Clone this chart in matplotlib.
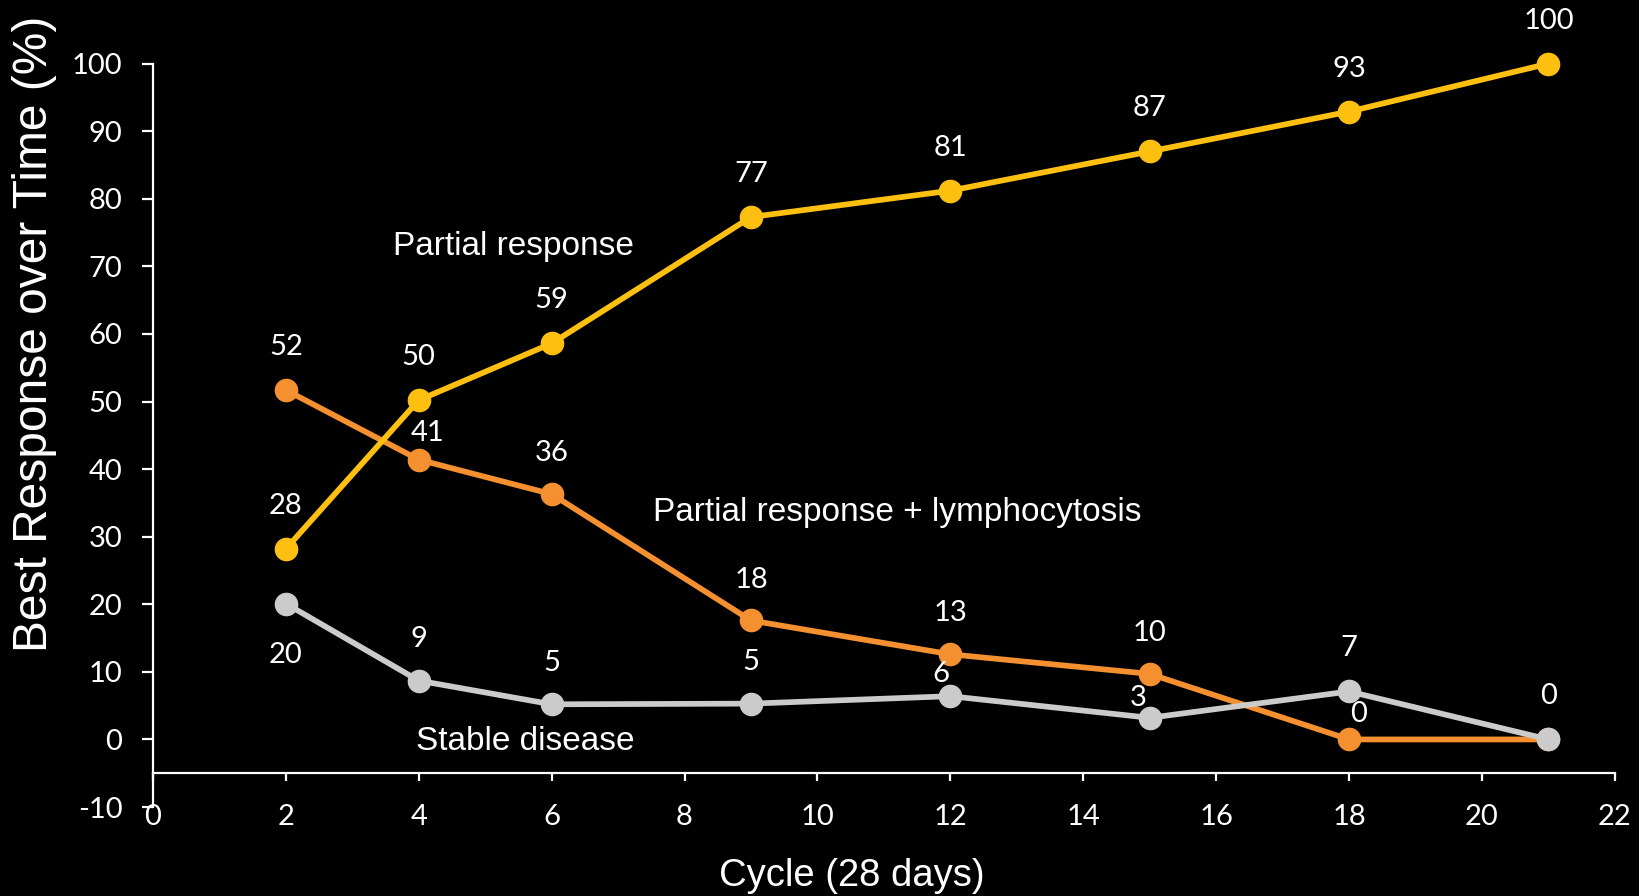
import matplotlib
matplotlib.use("Agg")
import matplotlib.pyplot as plt

plt.rcParams["axes.unicode_minus"] = False

# cycle (28 days) at which best response was assessed
cycles = [2, 4, 6, 9, 12, 15, 18, 21]

# best response over time (%)
partial_response = [28.2, 50.2, 58.6, 77.3, 81.2, 87.0, 92.9, 100.0]
pr_lymphocytosis = [51.7, 41.4, 36.3, 17.6, 12.6, 9.7, 0.0, 0.0]
stable_disease = [20.1, 8.7, 5.2, 5.3, 6.4, 3.2, 7.1, 0.0]

x_ticks = list(range(0, 23, 2))
y_ticks = list(range(-10, 101, 10))

# label offsets (points) relative to each marker
pr_offsets = [(0, 31)] * 8
lym_offsets = [(0, 31), (6, 19), (0, 29.5), (0, 29.5), (0, 29.5), (0, 29.5), (7, 18.5), (0, 31)]
sd_offsets = [(0, -37), (0, 30), (0, 30), (0, 30), (-6.5, 16), (-8, 14.5), (0, 31), (0, 31)]

BG = "black"
FG = "white"
label_font = "Lato"
text_font = "Liberation Sans"

fig = plt.figure(figsize=(16.39, 8.96), dpi=100, facecolor=BG)
ax = fig.add_axes([0.0933, 0.0993, 0.892, 0.8297])
ax.set_facecolor(BG)

# orange first, then yellow and grey on top
for vals, color, offs in [(pr_lymphocytosis, "#F4902F", lym_offsets),
                          (partial_response, "#FDC010", pr_offsets),
                          (stable_disease, "#CBCBCB", sd_offsets)]:
    ax.plot(cycles, vals, color=color, lw=4.1, marker="o", ms=16,
            clip_on=False, zorder=3)
    for i, (x, v) in enumerate(zip(cycles, vals)):
        # last orange label sits under the grey one in the reference
        if vals is pr_lymphocytosis and i == len(cycles) - 1:
            continue
        ax.annotate(f"{v:.0f}", (x, v), xytext=offs[i], textcoords="offset points",
                    ha="center", va="center", color=FG, fontsize=21,
                    family=label_font, zorder=5, annotation_clip=False)

# series names
ax.text(5.43, 72.9, "Partial response", color=FG, fontsize=24,
        family=text_font, ha="center", va="center")
ax.text(11.2, 33.6, "Partial response + lymphocytosis", color=FG, fontsize=24,
        family=text_font, ha="center", va="center")
ax.text(5.61, -0.3, "Stable disease", color=FG, fontsize=24,
        family=text_font, ha="center", va="center")

ax.set_xlim(0, 22)
ax.set_ylim(-10, 100)
ax.set_xticks(x_ticks)
ax.set_yticks(y_ticks)

for side in ["top", "right"]:
    ax.spines[side].set_visible(False)
ax.spines["bottom"].set_position(("data", -5))
for side in ["left", "bottom"]:
    ax.spines[side].set_color(FG)
    ax.spines[side].set_linewidth(1.6)

ax.tick_params(axis="both", colors=FG, width=1.6, labelsize=21)
ax.tick_params(axis="x", length=6, pad=16)
ax.tick_params(axis="y", length=8, pad=14)
for lab in ax.get_xticklabels() + ax.get_yticklabels():
    lab.set_family(label_font)

ax.set_xlabel("Cycle (28 days)", color=FG, fontsize=27.5, family=text_font)
ax.xaxis.set_label_coords(0.478, -0.093)
ax.xaxis.label.set_verticalalignment("center")
ax.set_ylabel("Best Response over Time (%)", color=FG, fontsize=34.5, family=text_font)
ax.yaxis.set_label_coords(-0.0807, 0.636)
ax.yaxis.label.set_verticalalignment("center")

fig.savefig("out.png", dpi=100, facecolor=BG)
